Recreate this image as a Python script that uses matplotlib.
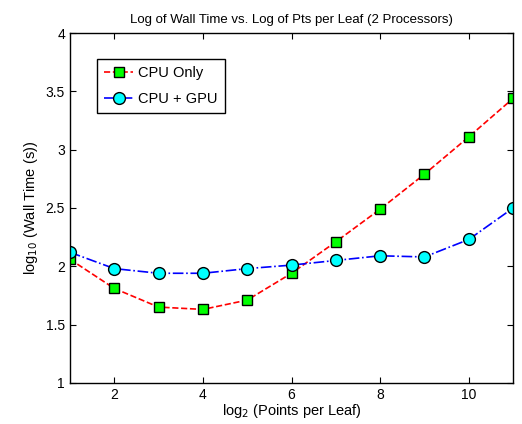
import matplotlib
matplotlib.use("Agg")
import matplotlib.pyplot as plt

pts_log2 = [1, 2, 3, 4, 5, 6, 7, 8, 9, 10, 11]
cpu_only = [2.06, 1.81, 1.65, 1.63, 1.71, 1.94, 2.21, 2.49, 2.79, 3.11, 3.44]
cpu_gpu = [2.12, 1.98, 1.94, 1.94, 1.98, 2.01, 2.05, 2.09, 2.08, 2.23, 2.50]

plt.rcParams['font.family'] = ['Liberation Sans', 'DejaVu Sans']

fig = plt.figure(figsize=(5.22, 4.24), dpi=100)
ax = fig.add_axes([0.134, 0.097, 0.849, 0.825])

ax.plot(pts_log2, cpu_only, 'r--', marker='s', markersize=6.5,
        markerfacecolor=(0, 1, 0), markeredgecolor='k', markeredgewidth=1.0,
        linewidth=1.2, label='CPU Only')
ax.plot(pts_log2, cpu_gpu, 'b-.', marker='o', markersize=8.5,
        markerfacecolor=(0, 1, 1), markeredgecolor='k', markeredgewidth=1.0,
        linewidth=1.2, label='CPU + GPU')

ax.set_xlim(1, 11)
ax.set_ylim(1, 4)
ax.set_xticks([2, 4, 6, 8, 10])
ax.set_yticks([1, 1.5, 2, 2.5, 3, 3.5, 4])
ax.set_yticklabels(['1', '1.5', '2', '2.5', '3', '3.5', '4'])
ax.tick_params(direction='in', top=True, right=True, labelsize=10, length=4)
for s in ax.spines.values():
    s.set_linewidth(1.0)

ax.set_title('Log of Wall Time vs. Log of Pts per Leaf (2 Processors)', fontsize=9.5, pad=7)
ax.set_xlabel(r'log$_2$ (Points per Leaf)', fontsize=10.5, labelpad=0)
ax.set_ylabel(r'log$_{10}$ (Wall Time (s))', fontsize=10.5, labelpad=4)

leg = ax.legend(loc='upper left', bbox_to_anchor=(0.061, 0.926), fontsize=10.5,
                fancybox=False, edgecolor='k', framealpha=1, borderaxespad=0,
                handlelength=2.0, borderpad=0.5, labelspacing=0.8,
                handletextpad=0.3)
leg.get_frame().set_linewidth(1.0)

fig.savefig('out.png', dpi=100)
